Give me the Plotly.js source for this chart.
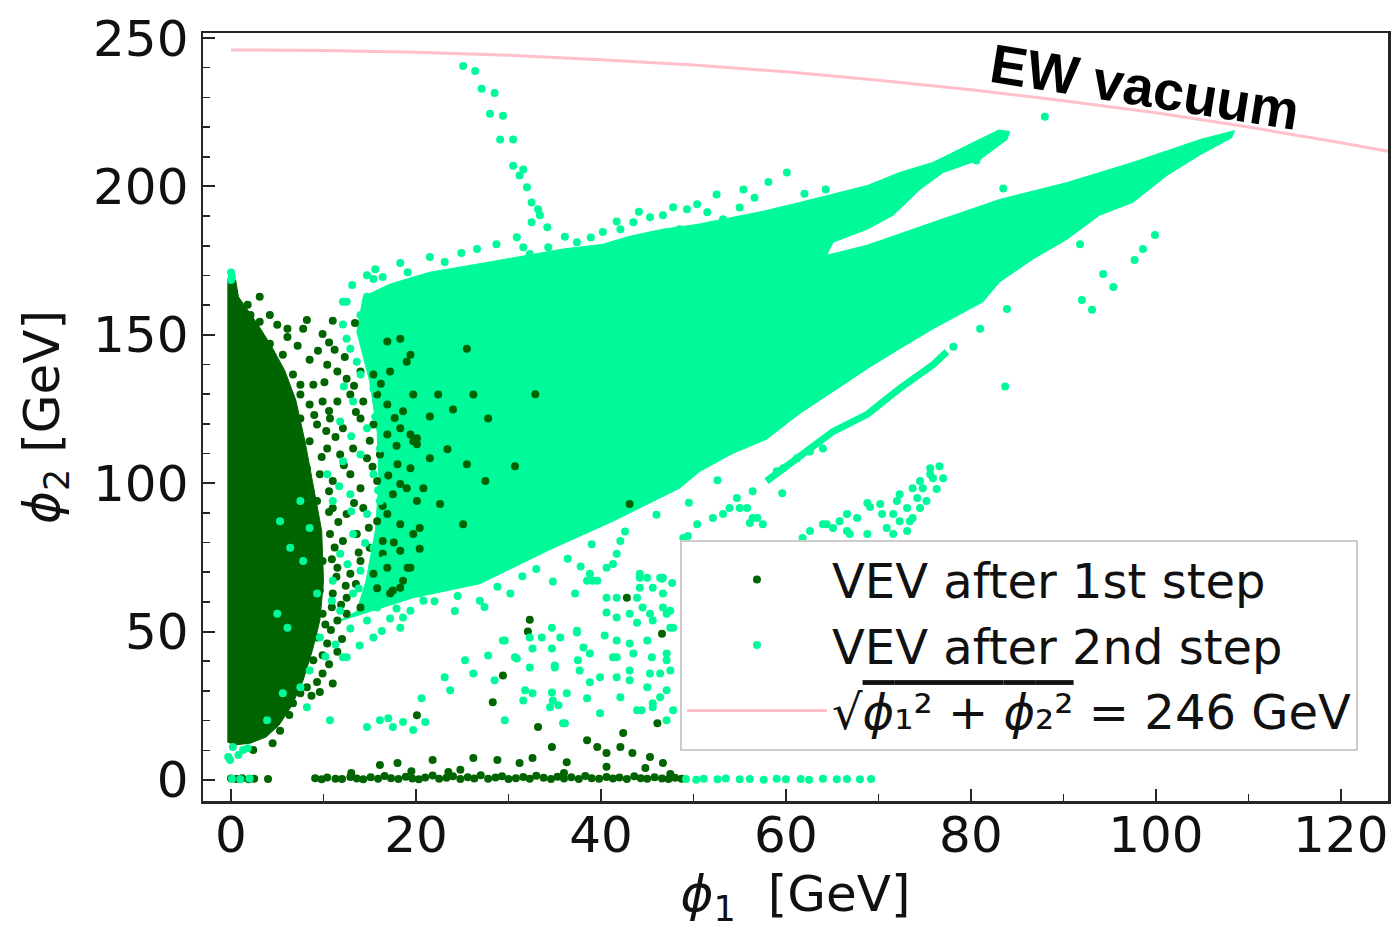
<!DOCTYPE html>
<html>
<head>
<meta charset="utf-8">
<script src="https://cdn.plot.ly/plotly-3.0.1.min.js"></script>
<style>html,body{margin:0;padding:0;background:#fff;}#chart{width:1395px;height:929px;}</style>
</head>
<body>
<div id="chart"></div>
<script>
// ---- EW vacuum circle sqrt(phi1^2+phi2^2)=246 GeV ----
const ewX = [0, 10, 20, 30, 40, 50, 60, 70, 80, 90, 100, 110, 120, 125.5];
const ewY = [246.0, 245.8, 245.2, 244.2, 242.7, 240.9, 238.6, 235.8, 232.6, 228.9, 224.8, 220.0, 214.7, 211.6];

// ---- VEV after 1st step: dense core outline (phi1, phi2) ----
const step1Core = [[-0.4,168.4],[0.5,168.4],[0.8,162.8],[1.8,158.5],[3.0,153.0],[4.4,146.0],[5.8,138.0],[7.0,128.0],[8.0,114.0],[8.8,100.7],[9.8,84.0],[10.0,67.0],[9.6,53.7],[8.8,43.7],[7.8,33.6],[6.6,25.2],[5.2,18.5],[3.8,14.5],[2.1,12.4],[0.4,11.8],[-0.4,12.8]];

// ---- VEV after 1st step: individual points ----
const step1Points = [[1.8,160.1],[3.1,162.8],[2.1,156.7],[3.1,154.4],[4.2,156.7],[5.0,153.4],[6.1,152.0],[6.1,149.3],[4.2,147.0],[2.8,144.3],[3.9,141.9],[5.6,143.3],[8.2,155.0],[7.8,152.0],[9.9,150.3],[11.0,154.7],[13.4,154.0],[8.5,141.6],[10.4,139.9],[2.1,151.0],[1.0,148.7],[1.7,137.6],[3.1,135.2],[5.0,135.2],[6.7,136.6],[7.5,133.2],[8.9,133.2],[11.5,137.6],[12.5,135.2],[14.0,137.6],[15.4,136.6],[17.2,137.6],[19.0,140.9],[16.9,147.7],[18.3,148.7],[19.4,143.3],
[3.9,126.5],[5.6,127.5],[7.5,129.9],[8.5,126.5],[9.9,127.5],[11.5,127.5],[12.9,129.9],[14.3,127.5],[15.8,129.9],[16.9,126.5],[18.6,124.2],[19.7,129.9],[7.5,121.8],[9.3,119.8],[10.7,121.8],[12.1,118.5],[14.0,121.8],[15.4,119.8],[16.9,116.4],[18.3,118.5],[19.7,114.1],[8.5,114.1],[10.4,111.7],[11.8,109.7],[13.2,111.7],[14.7,108.4],[16.1,109.7],[18.0,106.4],[19.4,105.0],[8.2,105.0],[9.6,103.0],[11.0,100.7],[12.9,103.0],[14.0,98.3],[15.8,100.7],[17.5,96.3],[19.0,98.3],[20.1,94.0],[9.3,94.0],[11.0,91.6],[12.5,89.6],[14.3,91.6],[15.8,87.2],[16.9,89.6],[18.3,86.2],[19.7,82.9],[9.3,84.9],[10.7,82.9],[12.1,80.5],[13.6,82.9],[15.0,78.2],[16.4,80.5],[18.3,77.2],[19.4,71.5],[8.5,76.2],[9.9,73.8],[11.5,71.5],[12.9,69.5],[14.0,73.8],[15.4,69.5],[16.9,71.5],[17.5,63.8],[18.6,67.1],[8.2,67.1],[9.6,63.8],[11.0,62.8],[12.5,61.4],[14.0,58.1],[8.5,58.1],[9.9,56.0],[11.5,53.7],[12.5,56.0],[8.2,50.3],[9.3,48.0],[10.4,46.0],[7.8,42.6],[8.9,40.3],[9.9,35.9],[9.3,33.0],[8.2,31.2],[7.5,29.2],[6.7,25.8],[2.4,10.1],[4.5,12.4],
[11.2,145.0],[12.3,142.5],[10.1,134.0],[13.3,132.8],[16.2,133.5],[10.6,124.3],[13.5,124.0],[17.7,122.0],[11.3,115.6],[15.0,114.3],[17.9,112.6],[12.2,106.0],[15.3,105.5],[17.0,102.6],[10.6,97.3],[13.3,93.3],[16.4,92.3],[11.6,86.9],[14.9,85.0],[17.6,80.0],[11.2,78.3],[13.8,76.6],[10.9,74.4],[12.4,65.4],[15.8,64.6],[13.5,66.0],[11.9,59.0],[10.8,50.5],[12.0,47.5],[11.5,43.2],[10.6,39.0],[9.6,29.6],[11.0,32.5],
[9.4,144.6],[7.2,146.3],[10.6,147.4],[9.0,123.0],[10.3,117.6],[9.8,108.8],[10.6,90.3],[11.4,68.5],[10.9,58.2],[10.2,52.4],[9.9,42.0],[8.7,28.4],[6.3,21.9],[5.3,16.6],
[22.4,129.9],[26.2,129.9],[24.0,124.8],[21.5,122.5],[27.8,121.8],[19.4,116.4],[20.1,113.1],[23.4,111.4],[25.5,106.4],[27.5,100.7],[20.8,98.3],[22.6,93.0],[25.1,86.2],[20.4,84.9],[20.4,77.9],[19.1,71.5],[16.4,76.2],[17.2,62.8],[18.3,64.8],[25.5,145.3],[32.9,130.0],[30.7,105.7],[43.1,93.0],[20.1,115.1],[21.5,108.4],[18.3,99.7],
[16.1,5.0],[18.0,5.7],[21.8,6.7],[26.2,7.4],[28.8,6.7],[31.2,5.7],[32.6,7.4],[36.3,6.0],[34.7,11.1],[38.5,13.4],[39.6,11.1],[40.6,9.1],[42.4,15.8],[42.1,11.1],[43.4,9.1],[45.3,7.7],[46.7,5.7],[44.8,4.0],[40.6,4.4],[33.2,17.8],[28.3,26.2],[29.4,35.2],[20.1,21.8],[32.3,54.0],[32.1,50.0],[46.6,49.3],[46.1,19.1],[42.8,61.4],[23.5,2.7],[13.0,2.3],[36.0,2.3],[47.5,2.0],[24.8,3.4],[19.5,2.9],
[0,0.5],[0.6,0.3],[1.2,0.6],[1.9,0.2],[2.5,0.4],[4.0,0.3],[9.1,0.6],[9.8,0.2],[10.4,0.8],[11.3,0.4],[12.0,0.3],[12.9,1.0],[13.6,0.5],[14.3,0.2],[15.1,0.9],[15.9,0.4],[16.6,1.3],[17.3,0.6],[18.1,0.3],[18.9,1.1],[19.6,0.5],[20.3,0.2],[21.0,0.8],[21.8,1.5],[22.5,0.4],[23.3,0.7],[24.0,1.2],[24.8,0.3],[25.6,0.9],[26.3,0.5],[27.0,1.6],[27.8,0.4],[28.6,0.8],[29.3,1.2],[30.0,0.3],[30.8,0.6],[31.6,1.0],[32.3,0.4],[33.0,1.4],[33.8,0.7],[34.6,0.3],[35.3,1.1],[36.0,0.5],[36.8,0.9],[37.6,0.3],[38.3,1.3],[39.0,0.6],[39.8,0.4],[40.6,1.0],[41.3,0.5],[42.0,0.8],[42.8,0.3],[43.6,1.2],[44.3,0.6],[45.0,0.4],[45.8,0.9],[46.6,0.5],[47.3,0.3],[48.0,0.7],[48.7,0.4]];

// ---- VEV after 2nd step: dense body outline (phi1, phi2) ----
const step2Body = [[11.2,53.0],[14.3,56.0],[19.7,61.4],[26.9,66.1],[34.2,77.2],[41.3,87.2],[48.5,98.3],[50.7,104.0],[54.3,110.1],[57.9,114.8],[61.5,123.5],[65.1,130.9],[68.8,138.6],[72.3,145.3],[75.9,152.0],[81.3,161.1],[83.1,167.8],[86.7,175.5],[90.4,182.2],[93.9,190.3],[97.5,194.6],[101.2,203.7],[104.8,210.7],[108.2,216.4],[108.5,218.8],
[104.8,215.8],[97.5,208.1],[90.4,201.3],[83.1,195.6],[75.9,187.9],[68.8,180.2],[64.4,176.8],
[65.1,181.2],[68.8,185.6],[71.6,190.3],[74.5,199.0],[77.0,204.7],[81.0,209.1],[83.9,215.8],[84.2,218.5],
[83.0,219.0],[79.6,213.8],[75.9,208.1],[72.3,204.7],[68.8,200.3],[61.5,194.6],[57.5,191.6],[50.4,187.2],[46.7,185.6],[43.1,183.2],[40.2,180.5],[35.9,178.9],[31.2,176.2],[26.6,173.8],[21.5,171.1],[17.2,167.1],[14.3,162.8],
[13.6,151.0],[15.0,134.2],[15.8,117.4],[16.0,100.7],[15.6,83.9],[14.6,67.1],[13.6,57.0]];

// ---- VEV after 2nd step: thin lower band ----
const step2Band = [[57.9,100.7],[61.5,109.1],[65.1,117.4],[68.8,123.2],[72.3,131.9],[75.9,139.9],[77.4,144.3]];

// ---- VEV after 2nd step: individual points ----
const step2Points = [[25.1,240.6],[26.4,238.9],[27.1,232.9],[28.5,231.5],[28.0,224.5],[29.4,223.8],[29.1,215.8],[30.5,215.8],[30.5,207.0],[31.6,205.7],[31.2,203.7],[32.0,199.7],[32.5,194.6],[33.2,192.3],[33.4,190.3],[32.5,187.9],[34.2,186.2],[30.9,182.9],[31.6,179.5],
[15.6,172.1],[13.1,166.8],[12.1,161.1],[21.5,176.2],[26.6,178.9],[23.1,174.5],[19.1,171.1],[14.7,170.1],[16.4,169.5],[34.3,179.5],[32.3,177.2],[37.4,181.2],[40.2,184.6],[42.1,185.6],[43.5,187.9],[45.3,189.6],[46.7,190.3],[48.5,185.6],[50.4,194.0],[49.3,192.3],[51.5,191.3],[52.5,197.3],[53.2,188.9],[55.4,199.0],[55.0,192.9],[60.1,204.7],
[18.3,174.2],[24.9,177.6],[28.7,180.5],[36.1,183.0],[38.9,182.8],[41.7,188.2],[44.1,191.5],[47.8,193.0],[52.0,187.0],[56.6,196.2],[58.4,191.0],[62.0,197.5],[64.3,199.0],[58.1,201.5],
[12.5,161.1],[14.7,162.8],[15.4,168.8],[14.0,156.7],[12.5,148.7],[13.6,140.9],[12.9,145.3],[5.3,87.2],[7.5,94.0],[8.5,84.9],[6.4,78.2],[7.8,73.8],[5.0,56.0],[6.1,51.3],[9.3,62.8],[11.0,67.1],[11.8,57.0],[13.2,62.8],[14.7,53.7],[15.4,48.0],[12.5,41.3],[9.6,48.0],[8.2,24.5],[7.5,31.2],[5.6,29.2],[3.9,20.1],[8.5,36.9],[12.1,41.3],[16.9,60.4],[18.3,51.3],[18.6,54.7],[12.1,107.4],[14.0,109.7],[12.9,96.3],[15.4,103.0],[14.7,89.6],[16.1,94.0],[13.2,82.9],[11.8,76.2],[15.4,78.2],[14.0,70.5],[16.1,111.7],[14.7,118.5],[13.2,127.5],[15.4,131.9],[14.0,136.6],[11.8,120.8],[10.4,103.0],[11.0,94.0],
[13.0,90.5],[15.9,97.6],[11.7,99.0],[14.5,79.8],[12.6,72.7],[16.6,74.3],[13.8,64.5],[10.9,60.4],[12.9,51.0],[13.9,45.3],[16.3,50.2],[17.9,57.8],[11.3,45.6],[10.2,41.6],[13.0,115.8],[15.6,122.4],[12.2,132.6],[16.8,140.3],[14.8,145.8],[12.1,153.5],[17.5,155.5],[16.0,160.2],
[0,168.5],[0,171.0],[0.1,169.5],
[-0.3,7.7],[0.2,11.1],[1.3,10.1],[-0.1,6.7],[0.8,8.4],[1.8,10.7],[0.1,0.4],[1.0,0.2],[2.0,0.5],
[88.0,223.5],[83.5,199.3],[80.6,208.7],[99.9,183.6],[98.6,178.9],[97.7,175.2],[95.4,166.1],[94.3,170.5],[93.1,158.4],[92.0,161.7],[91.8,180.5],[83.9,158.7],[81.0,152.0],[78.1,146.0],[83.7,132.6],
[22.0,60.2],[24.5,62.0],[28.8,65.1],[31.5,68.6],[33.0,71.1],[36.4,74.5],[39.0,79.4],[42.6,83.7],[46.0,89.4],[49.5,93.4],[52.6,101.0],[24.2,56.9],[27.4,58.3],[34.8,66.9],[37.8,71.9],
[50.4,86.2],[53.9,91.6],[52.1,88.3],[48.9,81.5],[49.4,82.2],[53.2,89.6],[54.7,95.0],[56.4,97.3],[55.0,91.6],[55.8,91.6],[56.9,88.3],[57.5,86.2],[56.4,88.3],[59.6,96.6],[59.7,105.0],[61.2,108.4],[62.6,110.7],[64.0,111.7],[62.6,83.9],[64.0,86.2],[61.8,81.5],[59.0,104.0],[56.1,86.6],
[76.6,105.7],[75.6,105.0],[75.9,101.7],[74.5,100.7],[77.0,101.7],[73.7,98.3],[76.3,98.0],[72.3,96.3],[74.2,95.0],[75.2,94.0],[73.1,91.6],[74.5,91.6],[72.0,94.0],[71.6,89.6],[73.7,88.3],[72.3,87.2],[70.9,84.9],[70.2,93.0],[70.4,89.6],[68.8,93.3],[67.7,88.3],[66.6,89.6],[65.8,87.2],[66.6,83.9],[65.1,84.9],[64.4,86.2],[66.9,82.9],[68.8,82.9],[71.6,82.9],[73.1,83.9],[74.8,98.3],[75.6,103.0],[73.4,87.2],[69.1,92.0],
[30.2,62.8],[37.2,62.8],[38.5,67.1],[39.6,67.1],[38.8,69.5],[45.0,68.1],[46.6,67.8],[47.7,66.4],[44.2,64.8],[45.6,64.8],[41.7,61.4],[43.9,61.4],[44.5,58.1],[40.6,56.4],[41.7,54.7],[43.1,56.0],[43.9,53.0],[45.6,53.7],[47.1,56.0],[47.8,51.3],[29.6,47.0],[33.6,48.0],[34.7,51.3],[35.6,48.0],[37.4,49.7],[40.4,48.7],[41.7,47.0],[43.1,46.0],[45.0,47.0],[27.8,41.9],[30.9,40.9],[32.6,44.3],[34.7,44.3],[37.5,40.3],[38.8,42.6],[41.7,41.3],[43.5,42.6],[45.5,41.3],[47.1,40.3],[32.3,37.9],[35.0,37.9],[37.7,36.9],[39.9,34.6],[41.7,34.6],[43.1,36.9],[45.3,35.9],[47.5,36.9],[28.5,33.6],[31.8,30.2],[34.7,29.5],[36.3,29.2],[38.5,27.5],[42.1,27.9],[45.0,31.2],[46.4,27.9],[31.6,26.8],[34.5,24.5],[35.4,25.2],[39.9,22.5],[43.9,23.5],[45.6,24.5],[47.8,23.5],[29.6,20.1],[35.9,19.1],[47.1,20.1],
[42.1,80.5],[40.6,71.5],[41.3,72.8],[26.9,60.4],[20.8,60.4],[17.2,54.4],[19.4,57.0],[15.8,58.1],[20.4,62.8],[41.7,76.2],[44.2,69.5],[46.7,62.8],[47.5,57.0],[45.3,56.0],[46.7,68.1],
[10.7,20.1],[14.7,17.8],[16.1,20.1],[17.0,20.8],[17.5,17.8],[18.6,19.5],[19.7,16.8],[21.0,19.5],[20.6,27.5],[23.1,34.6],[23.7,30.2],[25.3,40.3],[26.2,35.9],[30.7,41.3],[29.4,47.0],[32.3,48.0],[32.6,29.2],[34.8,26.8],[35.0,38.6],[36.1,19.1],[37.4,50.3],[38.1,44.6],[38.8,32.9],[39.1,67.1],[40.6,61.4],[41.3,41.3],[43.1,33.6],[44.4,23.5],[45.6,25.8],[47.1,30.2],[44.2,68.1],[46.4,68.1],[46.7,58.1],[47.5,51.3],[47.1,42.6],[46.4,35.9],
[49.2,0.3],[50.3,0.1],[51.1,0.4],[52.6,0.2],[53.5,0.5],[55.0,0.2],[56.1,0.3],[57.6,0.1],[59.0,0.4],[60.0,0.2],[61.6,0.3],[62.5,0.1],[64.0,0.4],[65.5,0.2],[66.6,0.3],[68.0,0.2],[69.2,0.3]];

// ---- text ----
const legendNames = ['VEV after 1st step', 'VEV after 2nd step', '√<span style="text-decoration:overline"><i>ϕ</i>₁² + <i>ϕ</i>₂²</span> = 246 GeV'];
const xTitle = '<i>ϕ</i><sub>1</sub>  [GeV]';
const yTitle = '<i>ϕ</i><sub>2</sub> [GeV]';
const vacuumLabel = '<b>EW vacuum</b>';

const DARK = '#006400', SPRING = '#00fa9a', PINK = '#ffc0cb';
const xs = a => a.map(p => p[0]);
const ys = a => a.map(p => p[1]);

const traces = [
  {x: xs(step1Core), y: ys(step1Core), type: 'scatter', mode: 'lines', fill: 'toself', fillcolor: DARK,
   line: {color: DARK, width: 1}, showlegend: false, hoverinfo: 'skip'},
  {x: xs(step2Body), y: ys(step2Body), type: 'scatter', mode: 'lines', fill: 'toself', fillcolor: SPRING,
   line: {color: SPRING, width: 1}, showlegend: false, hoverinfo: 'skip'},
  {x: xs(step2Band), y: ys(step2Band), type: 'scatter', mode: 'lines',
   line: {color: SPRING, width: 7}, showlegend: false, hoverinfo: 'skip'},
  {x: xs(step1Points), y: ys(step1Points), type: 'scatter', mode: 'markers', name: legendNames[0],
   marker: {color: DARK, size: 8}},
  {x: xs(step2Points), y: ys(step2Points), type: 'scatter', mode: 'markers', name: legendNames[1],
   marker: {color: SPRING, size: 8}},
  {x: ewX, y: ewY, type: 'scatter', mode: 'lines', name: legendNames[2], line: {color: PINK, width: 3}}
];

const FONT = 'DejaVu Sans, Verdana, sans-serif';
const axisCommon = {
  showgrid: false, zeroline: false, showline: true, mirror: true, linecolor: '#262626', linewidth: 2.5,
  ticks: 'inside', ticklen: 12, tickwidth: 2, tickcolor: '#262626',
  tickfont: {family: FONT, size: 50, color: '#111'},
  minor: {dtick: 10, ticks: 'inside', ticklen: 7, tickwidth: 1.5, tickcolor: '#262626'}
};

const layout = {
  width: 1395, height: 929,
  margin: {l: 203, r: 7, t: 33, b: 128},
  paper_bgcolor: '#fff', plot_bgcolor: '#fff',
  font: {family: FONT, color: '#111'},
  xaxis: Object.assign({}, axisCommon, {range: [-3.03, 125.1], dtick: 20, tick0: 0, ticklabelstandoff: -12,
    title: {text: xTitle, font: {family: FONT, size: 50, color: '#111'}, standoff: 30}}),
  yaxis: Object.assign({}, axisCommon, {range: [-7.1, 251.7], dtick: 50, tick0: 0, ticklabelstandoff: 2,
    title: {text: yTitle, font: {family: FONT, size: 50, color: '#111'}, standoff: 18}}),
  legend: {x: 0.4025, y: 0.34, xanchor: 'left', yanchor: 'top', bgcolor: 'rgba(255,255,255,0.85)',
    bordercolor: '#cccccc', borderwidth: 2, font: {family: FONT, size: 48, color: '#111'},
    itemwidth: 140, tracegroupgap: 0},
  annotations: [{x: 98.8, y: 233.5, xref: 'x', yref: 'y', text: vacuumLabel, showarrow: false, textangle: 9,
    font: {family: 'Liberation Sans, Arial, sans-serif', size: 55, color: '#000'}}],
  showlegend: true
};

Plotly.newPlot('chart', traces, layout, {displayModeBar: false, staticPlot: true});
</script>
</body>
</html>
